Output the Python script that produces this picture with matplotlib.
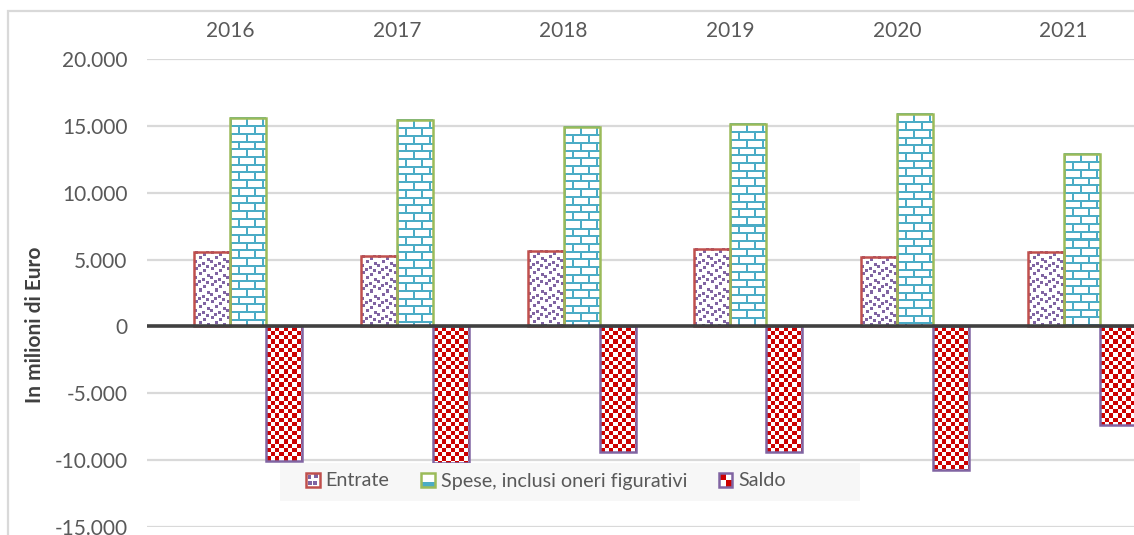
import numpy as np
import matplotlib
matplotlib.use("Agg")
import matplotlib.pyplot as plt
from matplotlib.patches import Rectangle, Patch
from matplotlib.legend_handler import HandlerBase

plt.rcParams["font.family"] = ["Lato", "DejaVu Sans"]

# -----------------------------
# Data (milioni di Euro)
# -----------------------------
years = ["2016", "2017", "2018", "2019", "2020", "2021"]
entrate = [5540, 5240, 5620, 5770, 5170, 5540]
spese = [15580, 15430, 14900, 15130, 15880, 12880]
saldo = [-10040, -10190, -9360, -9360, -10710, -7340]

series_names = ["Entrate", "Spese, inclusi oneri figurativi", "Saldo"]
yticks = [-15000, -10000, -5000, 0, 5000, 10000, 15000, 20000]

RED = "#c0504d"
GREEN = "#9bbb59"
PURPLE = "#8064a2"
CYAN = "#4bacc6"
CHECK_RED = "#cc0000"
TXT = "#595959"


def rgb(c):
    return np.array(matplotlib.colors.to_rgb(c))


def texture(kind, w, h):
    yy, xx = np.mgrid[0:h, 0:w]
    img = np.ones((h, w, 3))
    if kind == "confetti":
        tile = np.zeros((16, 16), bool)
        for (r, c) in [(0, 1), (2, 9), (5, 5), (7, 13), (9, 0), (11, 8), (13, 4), (14, 12)]:
            rr = np.arange(r, r + 3) % 16
            cc = np.arange(c, c + 3) % 16
            tile[np.ix_(rr, cc)] = True
        m = tile[yy % 16, xx % 16]
        img[m] = rgb(PURPLE)
    elif kind == "brick":
        rowh = 7.7
        row = (yy // rowh).astype(int)
        hline = (yy % rowh) < 2
        vline = ((xx + (row % 2) * 8) % 16) < 2
        img[hline | vline] = rgb(CYAN)
    elif kind == "check":
        s = 4.3
        m = ((xx // s).astype(int) + (yy // s).astype(int)) % 2 == 0
        img[m] = rgb(CHECK_RED)
    return img


fig = plt.figure(figsize=(11.34, 5.35), dpi=100)
W, H = 1134.0, 535.0
ax = fig.add_axes([147 / W, 8 / H, 1000 / W, 468 / H])

x = np.arange(len(years))
width = 0.216
offsets = [-0.108, 0.108, 0.324]
values = [entrate, spese, saldo]
edges = [RED, GREEN, PURPLE]
kinds = ["confetti", "brick", "check"]

ax.set_xlim(-0.5, 5.5)
ax.set_ylim(-15000, 20000)

for vals, off, ec, kind in zip(values, offsets, edges, kinds):
    bars = ax.bar(x + off, vals, width, facecolor="none", edgecolor=ec,
                  linewidth=1.8, zorder=4)
    for b in bars:
        x0, y0 = b.get_x(), b.get_y()
        x1, y1 = x0 + b.get_width(), y0 + b.get_height()
        p0 = ax.transData.transform((x0, min(y0, y1)))
        p1 = ax.transData.transform((x1, max(y0, y1)))
        wpx = max(int(round(p1[0] - p0[0])), 1)
        hpx = max(int(round(p1[1] - p0[1])), 1)
        ax.imshow(texture(kind, wpx, hpx), extent=(x0, x1, min(y0, y1), max(y0, y1)),
                  aspect="auto", interpolation="nearest", zorder=3)

ax.set_xlim(-0.5, 5.5)
ax.set_ylim(-15000, 20000)

ax.axhline(0, color="#404040", linewidth=2.6, zorder=5)
ax.set_yticks(yticks)
ax.set_yticklabels([f"{v:,}".replace(",", ".") for v in yticks])
ax.grid(axis="y", color="#d9d9d9", linewidth=1.6, zorder=0)
ax.set_axisbelow(True)

ax.xaxis.tick_top()
ax.set_xticks(x)
ax.set_xticklabels(years)
ax.tick_params(axis="both", length=0, labelsize=15, labelcolor=TXT)
ax.tick_params(axis="y", pad=14)
ax.tick_params(axis="x", pad=13)
for s in ax.spines.values():
    s.set_visible(False)

fig.text(35 / W, 1 - 325 / H, "In milioni di Euro", rotation=90, ha="center",
         va="center", fontsize=15, fontweight="bold", color="#404040")

# chart border (top and left visible)
fig.add_artist(Rectangle((8 / W, -0.1), 1.2, (535 - 11) / H + 0.1,
                         transform=fig.transFigure, fill=False,
                         edgecolor="#d9d9d9", linewidth=1.6))

# legend background
fig.add_artist(Rectangle((280 / W, 1 - 501 / H), 580 / W, 38 / H,
                         transform=fig.transFigure, facecolor="#f7f7f7",
                         edgecolor="none", zorder=6))


class IconHandler(HandlerBase):
    def __init__(self, kind, edge):
        super().__init__()
        self.kind = kind
        self.edge = edge

    def create_artists(self, legend, orig_handle, xdescent, ydescent,
                       width, height, fontsize, trans):
        s = height
        x0 = -xdescent + (width - s) / 2
        y0 = -ydescent
        arts = [Rectangle((x0, y0), s, s, facecolor="white", edgecolor="none",
                          transform=trans)]
        if self.kind == "check":
            for (i, j) in [(0, 1), (1, 0)]:
                arts.append(Rectangle((x0 + i * s / 2, y0 + j * s / 2), s / 2, s / 2,
                                      facecolor=CHECK_RED, linewidth=0, transform=trans))
        elif self.kind == "confetti":
            for (a, b) in [(0.12, 0.55), (0.55, 0.12), (0.6, 0.6), (0.15, 0.12)]:
                arts.append(Rectangle((x0 + a * s, y0 + b * s), s * 0.28, s * 0.28,
                                      facecolor=PURPLE, linewidth=0, transform=trans))
        elif self.kind == "brick":
            arts.append(Rectangle((x0, y0), s, s * 0.3, facecolor=CYAN,
                                  linewidth=0, transform=trans))
        arts.append(Rectangle((x0, y0), s, s, fill=False, edgecolor=self.edge,
                              linewidth=1.8, transform=trans))
        return arts


handles = [Patch(label=n) for n in series_names]
hmap = {h: IconHandler(k, e) for h, k, e in zip(handles, kinds, edges)}
leg = fig.legend(handles=handles, handler_map=hmap, ncol=3,
                 loc="center left", bbox_to_anchor=(296 / W, 1 - 481 / H),
                 frameon=False, fontsize=14.2, handlelength=0.7, handleheight=0.7,
                 handletextpad=0.3, columnspacing=1.6, borderpad=0.0)
leg.set_zorder(7)
for t in leg.get_texts():
    t.set_color(TXT)

plt.savefig("out.png", dpi=100)
plt.close()
print("Saved: out.png")
